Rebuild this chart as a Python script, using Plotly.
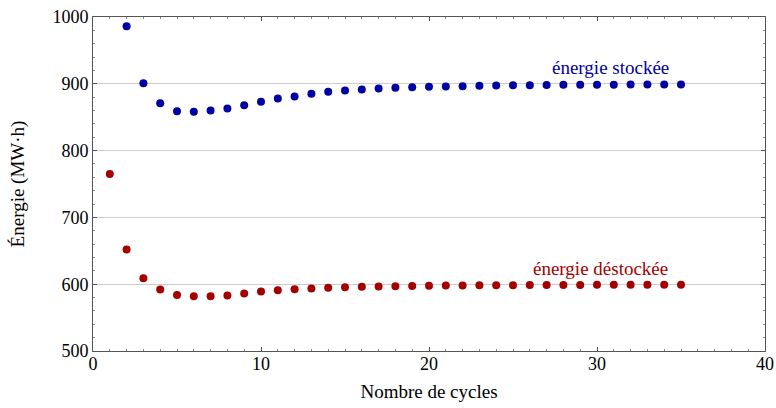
import plotly.graph_objects as go

cycles_stock = list(range(2, 36))
energie_stockee = [986, 901, 871, 859, 858, 860, 863, 868, 873, 878, 881, 885, 888, 890,
                   891.5, 893, 894, 895, 895.5, 896, 896.5, 897, 897.5, 897.8, 898, 898.2,
                   898.4, 898.5, 898.6, 898.7, 898.8, 898.8, 898.9, 898.9]
cycles_destock = list(range(1, 36))
energie_destockee = [765, 652, 609, 592, 584, 582, 582, 583, 586, 589, 591, 592.5, 593.5,
                     594.5, 595.5, 596, 596.5, 597, 597.3, 597.6, 597.9, 598.1, 598.3, 598.5,
                     598.6, 598.7, 598.8, 598.9, 598.9, 599, 599, 599, 599.1, 599.1, 599.1]

BLUE = "#0000A3"
RED = "#A30000"
FONT = "Liberation Serif"

fig = go.Figure()
fig.add_trace(go.Scatter(x=cycles_stock, y=energie_stockee, mode="markers",
                         marker=dict(color=BLUE, size=8), name="énergie stockée"))
fig.add_trace(go.Scatter(x=cycles_destock, y=energie_destockee, mode="markers",
                         marker=dict(color=RED, size=8), name="énergie déstockée"))

fig.add_annotation(x=30.8, y=924, text="énergie stockée", showarrow=False,
                   font=dict(family=FONT, size=19, color=BLUE))
fig.add_annotation(x=30.2, y=624, text="énergie déstockée", showarrow=False,
                   font=dict(family=FONT, size=19, color=RED))

axis_common = dict(showline=True, linecolor="#555555", linewidth=1, mirror="allticks",
                   ticks="inside", ticklen=4, tickcolor="#555555", zeroline=False,
                   automargin=False,
                   tickfont=dict(family=FONT, size=18, color="#000000"))

fig.update_xaxes(range=[0, 40], dtick=10, showgrid=False, ticklabelstandoff=-4,
                 minor=dict(dtick=1, ticks="inside", ticklen=2, tickcolor="#888888"),
                 title=dict(text="Nombre de cycles", font=dict(family=FONT, size=19, color="#000"),
                            standoff=12),
                 **axis_common)
fig.update_yaxes(range=[500, 1000], dtick=100, showgrid=True, gridcolor="#cccccc", gridwidth=1,
                 minor=dict(dtick=20, ticks="inside", ticklen=2, tickcolor="#888888"),
                 title=dict(text="Énergie (MW·h)", font=dict(family=FONT, size=19, color="#000"),
                            standoff=22),
                 **axis_common)

fig.update_layout(width=776, height=408, margin=dict(l=93, r=11, t=17, b=57),
                  plot_bgcolor="white", paper_bgcolor="white", showlegend=False,
                  font=dict(family=FONT))

fig.write_html("out.html")
